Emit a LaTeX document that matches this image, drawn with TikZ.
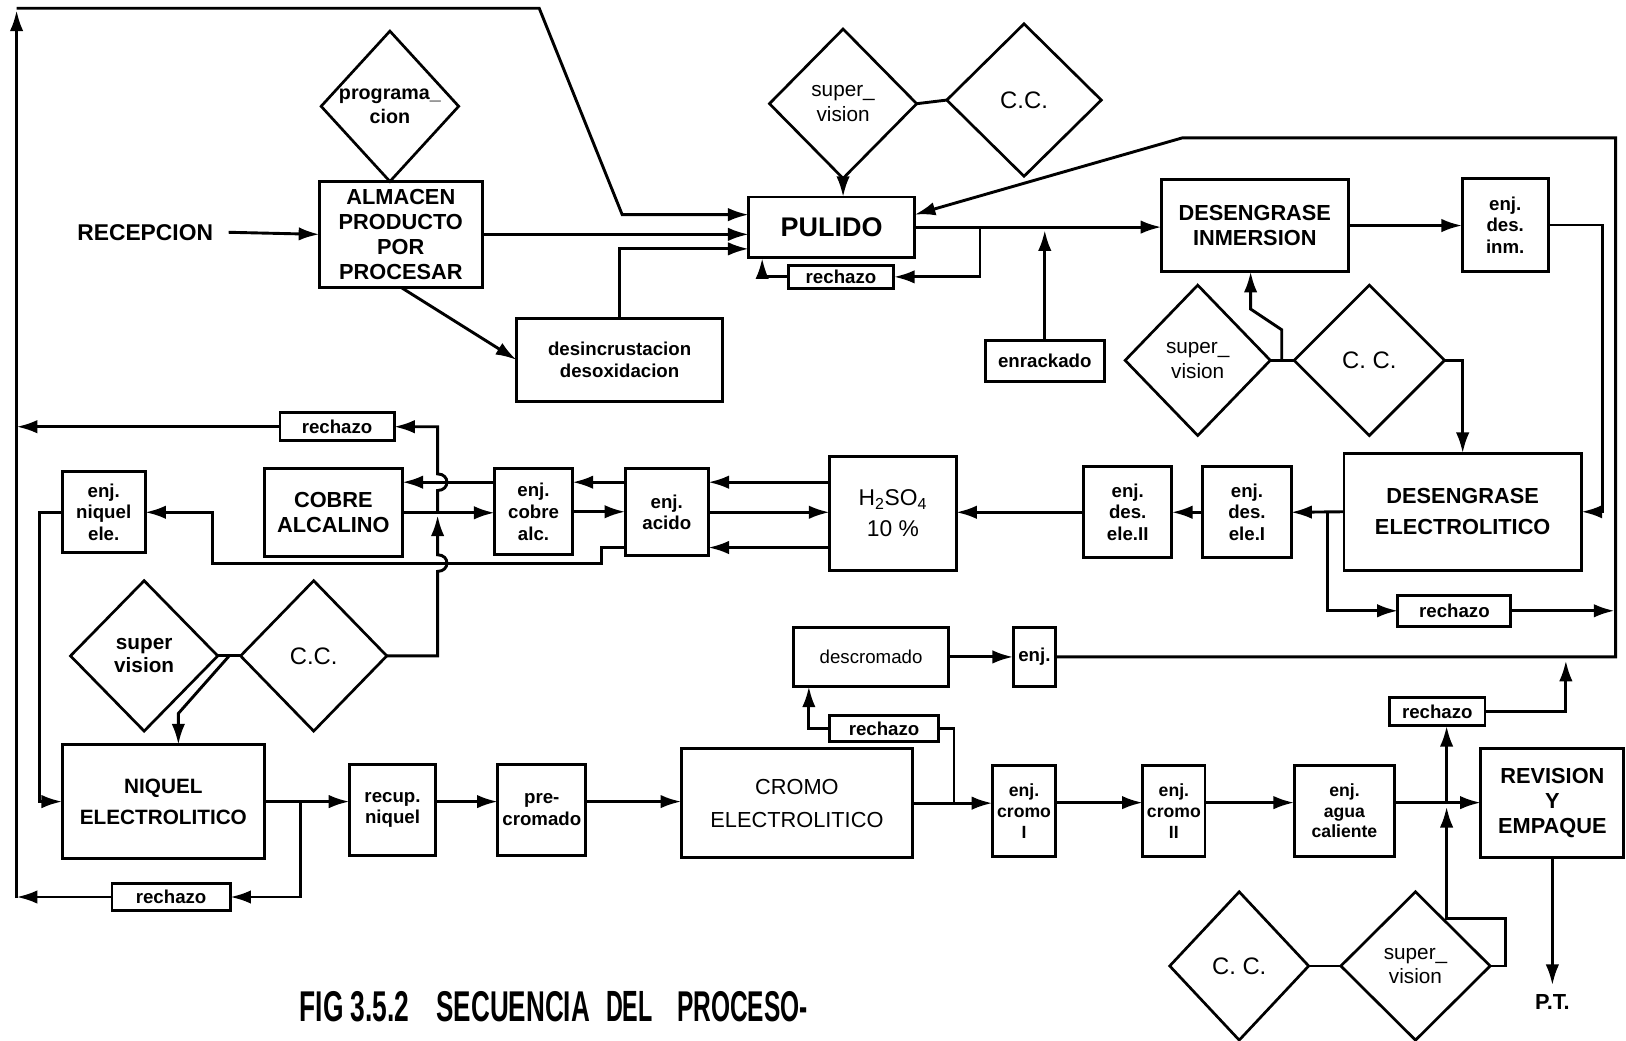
\documentclass[tikz,border=0pt]{standalone}
\usepackage{fontspec}
\usepackage{graphicx}
\setmainfont{Liberation Sans}
\usetikzlibrary{arrows.meta,shapes.geometric}
\newcommand\fcap{\bfseries\fontsize{21}{24}\selectfont}
\newcommand\fsml{\bfseries\fontsize{18}{21}\selectfont}
\newcommand\fdia{\fontsize{20}{24}\selectfont}
\newcommand\boxat[7]{\node[#1,minimum width={#5-#3},minimum height={#6-#4}] (#2) at ({(#3+#5)/2},{(#4+#6)/2}) {#7};}
\begin{document}
\begin{tikzpicture}[x=1pt,y=-1pt,
  every node/.style={inner sep=0pt,outer sep=0pt},
  ln/.style={line width=2.8pt,line join=miter},
  arr/.style={ln,-{Latex[length=20pt,width=13pt]}},
  box/.style={draw,line width=2.8pt,align=center,font=\fsml},
  capbox/.style={draw,line width=2.8pt,align=center,font=\fcap},
  dia/.style={draw,diamond,line width=2.6pt,align=center,font=\fdia},
  plain/.style={align=center,font=\fcap}]
\useasboundingbox[fill=white] (0,0) rectangle (1568,1003);

% ---- nodes ----
\node[plain,font=\bfseries\fontsize{22}{24}\selectfont] (recep) at (140,224) {RECEPCION};
\boxat{capbox}{alm}{308}{175}{465}{277}{ALMACEN\\PRODUCTO\\POR\\PROCESAR}
\boxat{dia,font=\bfseries\fontsize{19}{24}\selectfont}{prog}{312}{30}{440}{175}{programa\_\\cion}
\boxat{capbox,font=\bfseries\fontsize{26}{28}\selectfont}{pul}{722}{190}{882}{248}{PULIDO}
\boxat{dia}{supa}{742}{28}{884}{172}{super\_\\vision}
\boxat{dia,font=\fontsize{23}{26}\selectfont}{cca}{913}{23}{1062}{170}{C.C.}
\boxat{box}{rcha}{760}{256}{862}{278}{rechazo}
\boxat{box}{desinc}{498}{307}{697}{387}{desincrustacion\\desoxidacion}
\boxat{box}{enr}{950}{328}{1065}{368}{enrackado}
\boxat{capbox}{di}{1120}{173}{1300}{262}{DESENGRASE\\INMERSION}
\boxat{box}{edi}{1410}{172}{1493}{262}{enj.\\des.\\inm.}
\boxat{dia}{supb}{1085}{275}{1225}{420}{super\_\\vision}
\boxat{dia,font=\fontsize{23}{26}\selectfont}{ccb}{1248}{275}{1393}{420}{C. C.}
\boxat{capbox,font=\bfseries\fontsize{21}{30}\selectfont}{de}{1296}{437}{1525}{550}{DESENGRASE\\ELECTROLITICO}
\boxat{box}{edea}{1160}{450}{1245}{538}{enj.\\des.\\ele.I}
\boxat{box}{edeb}{1045}{450}{1130}{538}{enj.\\des.\\ele.II}
\boxat{box}{rchb}{1348}{574}{1457}{604}{rechazo}
\boxat{box,font=\fontsize{22}{30}\selectfont}{hso}{800}{440}{922}{550}{H\textsubscript{2}SO\textsubscript{4}\\10 \%}
\boxat{box}{acid}{603}{452}{683}{536}{enj.\\acido}
\boxat{box}{ecob}{477}{452}{552}{535}{enj.\\cobre\\alc.}
\boxat{capbox}{cob}{255}{452}{388}{537}{COBRE\\ALCALINO}
\boxat{box}{rchc}{270}{398}{380}{425}{rechazo}
\boxat{box}{eni}{60}{455}{140}{533}{enj.\\niquel\\ele.}
\boxat{dia,font=\bfseries\fontsize{20}{22}\selectfont}{supc}{68}{560}{210}{705}{super\\vision}
\boxat{dia,font=\fontsize{23}{26}\selectfont}{ccc}{232}{560}{373}{705}{C.C.}
\boxat{capbox,font=\bfseries\fontsize{20}{30}\selectfont}{ni}{60}{718}{255}{828}{NIQUEL\\ELECTROLITICO}
\boxat{box}{rchd}{108}{852}{222}{878}{rechazo}
\boxat{box}{rec}{337}{737}{420}{825}{recup.\\niquel}
\boxat{box}{pre}{480}{737}{565}{825}{pre-\\cromado}
\boxat{capbox,font=\fontsize{21}{32}\selectfont}{cro}{657}{722}{880}{827}{CROMO\\ELECTROLITICO}
\boxat{box}{rche}{800}{690}{905}{715}{rechazo}
\boxat{box,font=\fontsize{18}{21}\selectfont}{desc}{765}{605}{915}{662}{descromado}
\boxat{box}{enj}{977}{605}{1018}{662}{enj.}
\boxat{box,font=\bfseries\fontsize{17}{20}\selectfont}{eca}{957}{738}{1018}{826}{enj.\\cromo\\I}
\boxat{box,font=\bfseries\fontsize{17}{20}\selectfont}{ecb}{1102}{738}{1162}{826}{enj.\\cromo\\II}
\boxat{box,font=\bfseries\fontsize{17}{20}\selectfont}{eag}{1248}{738}{1345}{826}{enj.\\agua\\caliente}
\boxat{box}{rchf}{1340}{673}{1432}{700}{rechazo}
\boxat{capbox}{rev}{1428}{722}{1566}{827}{REVISION\\Y\\EMPAQUE}
\node[plain] (pt) at (1497,966) {P.T.};
\boxat{dia,font=\fontsize{23}{26}\selectfont}{ccd}{1128}{860}{1262}{1003}{C. C.}
\boxat{dia}{supd}{1293}{860}{1437}{1003}{super\_\\vision}

% caption
\node (capa) at (342,971) {\resizebox{106pt}{29pt}{\bfseries FIG 3.5.2}};
\node (capb) at (495,971) {\resizebox{148pt}{29pt}{\bfseries SECUENCIA}};
\node (capc) at (607,971) {\resizebox{45pt}{29pt}{\bfseries DEL}};
\node (capd) at (716,971) {\resizebox{126pt}{29pt}{\bfseries PROCESO-}};

% ---- connectors ----
\draw[arr] (16,866) -- (16,10);
\draw[arr] (16,8) -- (520,8) -- (600,207) -- ([yshift=12pt]pul.west);
\draw[arr] ([xshift=15pt]recep.east) -- (alm.west);
\draw[arr] (alm.east) -- (alm.east -| pul.west);
\draw[arr] (alm.south) -- (desinc.west);
\draw[arr] (desinc.north) |- ([yshift=-21pt]pul.west);
\draw[arr] (supa.south) -- (supa.south |- pul.north);
\draw[ln] (supa.east) -- (cca.west);
\draw[arr] (pul.east) -- (pul.east -| di.west);
\draw[arr] (945,219) |- (rcha.east);
\draw[arr] (rcha.west) -| (735,249);
\draw[arr,shorten >=3pt] (enr.north) -- (enr.north |- pul.east);
\draw[arr] (di.east) -- (di.east -| edi.west);
\draw[arr] (edi.east) -| ([xshift=20pt]de.east) -- (de.east);
\draw[arr] (enj.east) -- (1558,633.5) -- (1558,133) -- (1140,133) -- ([yshift=12pt]pul.east);
\draw[ln] (supb.east) -- (ccb.west);
\draw[arr] (1236,347.5) -- (1236,318) -- (1206,298) -- (1206,262);
\draw[arr] (ccb.east) -| (de.north);
\draw[arr] (de.west) -- (edea.east);
\draw[arr] (1280,494) |- (rchb.west);
\draw[arr] (rchb.east) -- (1557,589);
\draw[arr] (edea.west) -- (edeb.east);
\draw[arr] (edeb.west) -- (edeb.west -| hso.east);
\draw[arr] ([yshift=30pt]hso.west) -- ([yshift=30pt]hso.west -| acid.east);
\draw[arr] (acid.east) -- (acid.east -| hso.west);
\draw[arr] ([yshift=-33pt]hso.west) -- ([yshift=-33pt]hso.west -| acid.east);
\draw[arr] ([yshift=29pt]acid.west) -- ([yshift=29pt]acid.west -| ecob.east);
\draw[arr] (ecob.east) -- (ecob.east -| acid.west);
\draw[arr] ([yshift=28.5pt]ecob.west) -- ([yshift=28.5pt]ecob.west -| cob.east);
\draw[arr] (cob.east) -- (cob.east -| ecob.west);
\draw[arr] ([yshift=-34pt]acid.west) -- (580,528) -- (580,543) -- (205,543) -- (205,494) -- (eni.east);
\draw[arr] (ccc.east) -- (422,632.5) -- (422,551) .. controls (434,551) and (434,535) .. (422,535) -- (422,497);
\draw[arr] (422,494) -- (422,473) .. controls (434,473) and (434,457) .. (422,457) |- (rchc.east);
\draw[arr] (rchc.west) -- (16,411.5);
\draw[arr] (eni.west) -- ++(-22,0) |- (ni.west);
\draw[ln] (supc.east) -- (ccc.west);
\draw[arr] (221,632.5) -- (172,688) -- (172,718);
\draw[arr] (ni.east) -- (ni.east -| rec.west);
\draw[arr] (290,773) |- (rchd.east);
\draw[arr] (rchd.west) -- (16,865);
\draw[arr] ([yshift=8pt]rec.east) -- ([yshift=8pt]rec.east -| pre.west);
\draw[arr] ([yshift=8pt]pre.east) -- ([yshift=8pt]pre.east -| cro.west);
\draw[arr] (cro.east) -- (cro.east -| eca.west);
\draw[ln] (920,774.5) |- (rche.east);
\draw[arr] (rche.west) -| (780,662);
\draw[arr] (desc.east) -- (enj.west);
\draw[arr] ([yshift=8pt]eca.east) -- ([yshift=8pt]eca.east -| ecb.west);
\draw[arr] ([yshift=8pt]ecb.east) -- ([yshift=8pt]ecb.east -| eag.west);
\draw[arr] ([yshift=8pt]eag.east) -- ([yshift=8pt]eag.east -| rev.west);
\draw[arr] (1395,774) -- (1395,700);
\draw[arr] (rchf.east) -| (1510,637);
\draw[ln] (ccd.east) -- (supd.west);
\draw[arr] (supd.east) -- (1452,931.5) -- (1452,886) -- (1395,886) -- (1395,778);
\draw[arr] (rev.south) -- (1497,950);
\end{tikzpicture}
\end{document}
